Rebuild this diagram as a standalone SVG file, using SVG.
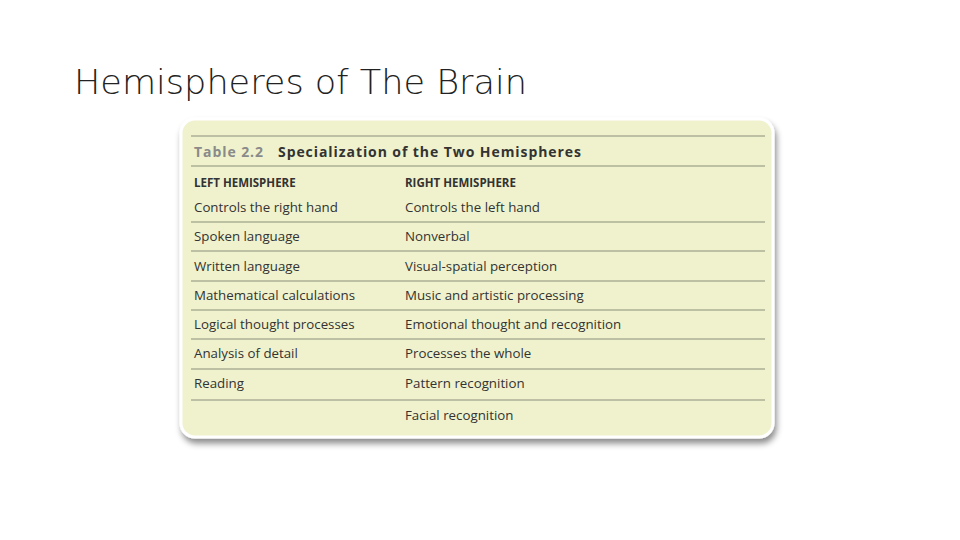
<svg xmlns="http://www.w3.org/2000/svg" width="960" height="540" viewBox="0 0 960 540">
<style>
.t{font-family:"Open Sans","Liberation Sans",sans-serif;font-size:13.3px;fill:#333}
.h{font-family:"Open Sans","Liberation Sans",sans-serif;font-size:11.5px;font-weight:bold;fill:#333}
.l{stroke:#8a8f7a;stroke-width:1}
</style>
<defs><filter id="s" x="-5%" y="-5%" width="110%" height="115%"><feDropShadow dx="2" dy="5" stdDeviation="3" flood-color="#000" flood-opacity="0.45"/></filter></defs>
<rect width="960" height="540" fill="#fff"/>
<text x="74" y="94" font-family="'DejaVu Sans','Liberation Sans',sans-serif" font-weight="200" font-size="34" fill="#222" textLength="453" lengthAdjust="spacingAndGlyphs">Hemispheres of The Brain</text>
<g id="table">
<rect x="181" y="119" width="592" height="318" rx="14" fill="#eff2cc" stroke="#fff" stroke-width="3" filter="url(#s)"/>
<g class="l">
<line x1="191" y1="136" x2="765" y2="136"/>
<line x1="191" y1="166" x2="765" y2="166"/>
<line x1="191" y1="222" x2="765" y2="222"/>
<line x1="191" y1="251" x2="765" y2="251"/>
<line x1="191" y1="281" x2="765" y2="281"/>
<line x1="191" y1="310" x2="765" y2="310"/>
<line x1="191" y1="339" x2="765" y2="339"/>
<line x1="191" y1="369" x2="765" y2="369"/>
<line x1="191" y1="400" x2="765" y2="400"/>
</g>
<text x="194" y="157" font-family="'Open Sans','Liberation Sans',sans-serif" font-size="14" font-weight="bold" fill="#8a8a8a" textLength="69">Table 2.2</text>
<text x="278" y="157" font-family="'Open Sans','Liberation Sans',sans-serif" font-size="14" font-weight="bold" fill="#333" textLength="303">Specialization of the Two Hemispheres</text>
<text class="h" x="194" y="187">LEFT HEMISPHERE</text>
<text class="h" x="405" y="187">RIGHT HEMISPHERE</text>
<text class="t" x="194" y="212">Controls the right hand</text><text class="t" x="405" y="212">Controls the left hand</text>
<text class="t" x="194" y="241">Spoken language</text><text class="t" x="405" y="241">Nonverbal</text>
<text class="t" x="194" y="271">Written language</text><text class="t" x="405" y="271">Visual-spatial perception</text>
<text class="t" x="194" y="300">Mathematical calculations</text><text class="t" x="405" y="300">Music and artistic processing</text>
<text class="t" x="194" y="329">Logical thought processes</text><text class="t" x="405" y="329">Emotional thought and recognition</text>
<text class="t" x="194" y="358">Analysis of detail</text><text class="t" x="405" y="358">Processes the whole</text>
<text class="t" x="194" y="388">Reading</text><text class="t" x="405" y="388">Pattern recognition</text>
<text class="t" x="405" y="420">Facial recognition</text>
</g>
</svg>
